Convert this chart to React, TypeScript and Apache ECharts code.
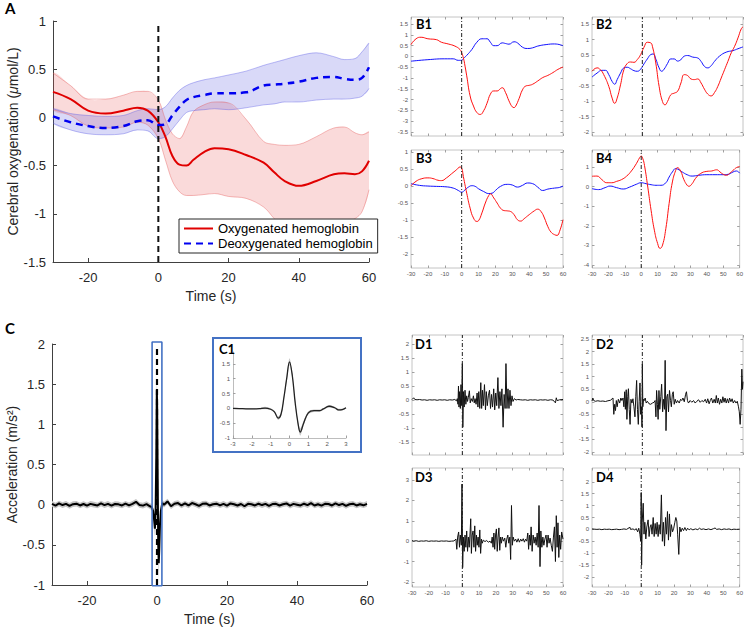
import React, { useEffect, useRef } from "react";
import * as echarts from "echarts";

const FONT = '"Liberation Sans", Arial, Helvetica, sans-serif';
const BOLD = 'Lato, "Open Sans", "Liberation Sans", sans-serif';

// ---------- Panel A: cerebral oxygenation (mean and band) ----------
const tA = [-30, -25, -20, -15, -10, -6, -3, 0, 2, 4, 6, 8, 10, 13, 16, 20, 25, 30, 33, 36, 40, 45, 50, 53, 56, 58, 60];
const oxyMean = [0.265, 0.19, 0.07, 0.04, 0.07, 0.1, 0.07, -0.05, -0.2, -0.4, -0.49, -0.5, -0.44, -0.36, -0.32, -0.33, -0.39, -0.47, -0.57, -0.66, -0.71, -0.66, -0.59, -0.58, -0.59, -0.56, -0.45];
const oxyUpper = [0.46, 0.33, 0.19, 0.19, 0.23, 0.27, 0.27, 0.18, -0.02, -0.17, -0.22, -0.1, 0.06, 0.13, 0.16, 0.15, -0.02, -0.25, -0.28, -0.29, -0.28, -0.2, -0.11, -0.1, -0.16, -0.18, -0.15];
const oxyLower = [0.08, 0.02, -0.09, -0.11, -0.1, -0.05, -0.08, -0.22, -0.44, -0.66, -0.77, -0.81, -0.81, -0.8, -0.79, -0.82, -0.84, -0.93, -1.05, -1.16, -1.23, -1.21, -1.17, -1.1, -1.05, -0.98, -0.75];
const deoxyMean = [0.01, -0.05, -0.09, -0.11, -0.09, -0.04, -0.03, -0.08, -0.07, 0.02, 0.11, 0.18, 0.21, 0.23, 0.25, 0.25, 0.26, 0.33, 0.34, 0.35, 0.37, 0.41, 0.42, 0.4, 0.39, 0.41, 0.52];
const deoxyUpper = [0.09, 0.04, 0.02, 0.01, 0.02, 0.07, 0.09, 0.08, 0.11, 0.2, 0.28, 0.33, 0.36, 0.39, 0.41, 0.44, 0.48, 0.54, 0.57, 0.6, 0.64, 0.67, 0.63, 0.6, 0.61, 0.68, 0.77];
const deoxyLower = [-0.06, -0.13, -0.17, -0.18, -0.17, -0.13, -0.14, -0.22, -0.2, -0.12, -0.03, 0.05, 0.07, 0.08, 0.09, 0.08, 0.1, 0.13, 0.14, 0.16, 0.16, 0.18, 0.19, 0.19, 0.2, 0.22, 0.3];
const legendNames = ["Oxygenated hemoglobin", "Deoxygenated hemoglobin"];
const ticksAx = [-20, 0, 20, 40, 60];
const ticksAy = [-1.5, -1, -0.5, 0, 0.5, 1];

// ---------- Panels B1-B4 ----------
const b1Oxy = [[-30, 0.55], [-27, 0.82], [-24, 0.89], [-20, 0.82], [-15, 0.78], [-12, 0.66], [-8, 0.58], [-4, 0.48], [-1, 0.32], [0, 0.17], [1, -0.06], [2, -0.45], [3, -0.9], [5, -1.83], [7, -2.3], [9, -2.6], [11, -2.69], [13, -2.52], [15, -2.17], [17, -1.75], [19, -1.6], [21, -1.6], [23, -1.49], [24, -1.45], [26, -1.68], [28, -2.06], [30, -2.34], [31, -2.37], [32, -2.3], [34, -1.95], [36, -1.55], [38, -1.37], [40, -1.34], [42, -1.29], [45, -1.14], [48, -0.98], [51, -0.88], [54, -0.75], [57, -0.6], [60, -0.49]];
const b1Deoxy = [[-30, -0.22], [-20, -0.15], [-10, -0.11], [-5, -0.11], [-2, -0.18], [0, -0.18], [1, -0.1], [3, 0.05], [6, 0.32], [9, 0.66], [12, 0.82], [15, 0.82], [17, 0.66], [19, 0.5], [21, 0.5], [24, 0.63], [26, 0.6], [28, 0.57], [31, 0.68], [33, 0.63], [36, 0.43], [39, 0.37], [42, 0.4], [45, 0.48], [50, 0.55], [55, 0.58], [60, 0.5]];
const b2Oxy = [[-30, -0.03], [-27, 0.08], [-25, 0.02], [-23, -0.14], [-20, -0.52], [-18, -0.9], [-16.5, -1.07], [-15, -0.9], [-13, -0.47], [-11, 0.02], [-9, 0.22], [-7, 0.27], [-5, 0.26], [-3, 0.35], [-1, 0.51], [1, 0.75], [3, 0.91], [5, 0.89], [6, 0.78], [8, 0.24], [10, -0.52], [12, -1.01], [13.5, -1.12], [15, -1.01], [17, -0.79], [19, -0.74], [21, -0.68], [23, -0.41], [25, -0.14], [27, -0.17], [29, -0.28], [31, -0.3], [33, -0.28], [35, -0.41], [37, -0.61], [39, -0.77], [41, -0.83], [43, -0.72], [45, -0.52], [47, -0.25], [49, 0.02], [51, 0.29], [53, 0.57], [55, 0.78], [57, 1.05], [59, 1.35], [60, 1.41]];
const b2Deoxy = [[-30, -0.22], [-27, -0.09], [-24, 0], [-22, 0], [-20, -0.14], [-18, -0.36], [-16.5, -0.45], [-15, -0.3], [-13, -0.09], [-11, 0.08], [-9, 0.1], [-7, 0.05], [-5, -0.01], [-3, -0.03], [-1, 0.04], [1, 0.21], [3, 0.37], [5, 0.51], [6.5, 0.53], [8, 0.37], [10, 0.08], [11.5, -0.03], [13, 0.04], [15, 0.22], [17, 0.37], [19, 0.37], [21, 0.3], [23, 0.35], [25, 0.46], [27, 0.48], [30, 0.43], [33, 0.4], [35, 0.29], [37, 0.13], [39, 0.08], [41, 0.15], [43, 0.29], [46, 0.46], [50, 0.59], [54, 0.64], [57, 0.7], [60, 0.76]];
const b3Oxy = [[-30, 0.01], [-27, 0.14], [-24, 0.21], [-20, 0.24], [-17, 0.22], [-14, 0.17], [-12, 0.16], [-9, 0.24], [-6, 0.36], [-3, 0.48], [-1, 0.56], [0, 0.53], [1, 0.28], [3, -0.21], [5, -0.65], [7, -0.94], [9, -1.04], [10, -1.02], [12, -0.79], [14, -0.5], [16, -0.28], [17, -0.23], [19, -0.35], [21, -0.5], [23, -0.65], [25, -0.72], [27, -0.73], [29, -0.75], [31, -0.84], [33, -0.99], [35, -1.03], [37, -0.96], [40, -0.84], [43, -0.73], [45, -0.68], [47, -0.75], [49, -0.94], [51, -1.19], [53, -1.36], [55, -1.43], [56.5, -1.45], [58, -1.33], [60, -0.99]];
const b3Deoxy = [[-30, 0.07], [-25, 0.02], [-20, 0], [-15, -0.01], [-10, -0.02], [-5, -0.06], [-2, -0.13], [0, -0.18], [2, -0.11], [4, -0.03], [6, 0.01], [8, -0.01], [10, -0.08], [13, -0.16], [16, -0.22], [18, -0.21], [20, -0.13], [23, -0.01], [27, 0.05], [30, 0.03], [33, -0.03], [36, 0.02], [39, 0.09], [42, 0.07], [45, -0.03], [48, -0.13], [51, -0.09], [55, -0.06], [58, -0.04], [60, 0]];
const b4Oxy = [[-30, 0.53], [-27, 0.54], [-24, 0.36], [-21, 0.2], [-18, 0.2], [-15, 0.27], [-12, 0.36], [-9, 0.53], [-6, 0.8], [-3, 1.17], [-1, 1.47], [0, 1.56], [1, 1.42], [2, 1.08], [4, -0.02], [6, -1.2], [8, -2.22], [10, -2.9], [11.5, -3.15], [13, -2.98], [15, -2.14], [17, -0.86], [19, 0.24], [21, 0.83], [22, 0.97], [24, 0.8], [26, 0.36], [28, 0.07], [29, 0.02], [31, 0.15], [33, 0.41], [36, 0.66], [40, 0.78], [43, 0.8], [46, 0.86], [48, 0.75], [50, 0.63], [52, 0.58], [54, 0.69], [56, 0.83], [58, 0.97], [60, 1.03]];
const b4Deoxy = [[-30, -0.1], [-26, -0.15], [-22, -0.05], [-19, 0.03], [-15, -0.05], [-11, -0.12], [-7, -0.02], [-3, 0.12], [0, 0.2], [3, 0.15], [6, 0.1], [9, 0.07], [12, 0.07], [15, 0.2], [17, 0.49], [19, 0.75], [21, 0.92], [23, 0.86], [25, 0.75], [28, 0.61], [31, 0.54], [35, 0.58], [40, 0.61], [45, 0.61], [50, 0.61], [53, 0.63], [56, 0.75], [58, 0.8], [60, 0.69]];

// ---------- Panel C: acceleration ----------
const accPre = [0.01, -0.012, 0.015, -0.005, 0.01, -0.015, 0.006, 0.012, -0.01, 0.008, -0.012, 0.01, 0.0, -0.01, 0.015, -0.006, 0.01, -0.012, 0.008, 0.004, -0.01, 0.012, -0.008, 0.01, 0.035, -0.004, -0.012, 0.006, -0.02]; // t = -30..-2
const accSpikeT = [-1.5, -1.1, -0.8, -0.6, -0.4, -0.2, -0.05, 0.05, 0.2, 0.35, 0.5, 0.65, 0.85, 1.1, 1.5];
const accSpikeV = [-0.03, -0.08, -0.2, -0.3, -0.1, 0.6, 1.43, 1.2, 0.3, -0.5, -0.73, -0.55, -0.25, -0.08, 0.02];
const accSpikeHalf = [0.04, 0.05, 0.08, 0.1, 0.12, 0.15, 0.2, 0.2, 0.15, 0.12, 0.2, 0.12, 0.08, 0.05, 0.04];
const accPost = [0.0, 0.04, -0.02, 0.012, 0.02, -0.01, 0.015, -0.01, 0.02, 0.005, -0.015, 0.01, 0.015, -0.01, 0.005, 0.012, -0.008, 0.01, -0.012, 0.015, 0.005, -0.01, 0.008, -0.02, 0.01, 0.005, -0.01, 0.012, -0.005, 0.01, -0.015, 0.008, 0.01, -0.01, 0.005, 0.015, -0.012, 0.01, 0.0, -0.01, 0.012, -0.005, 0.02, -0.01, 0.005, -0.012, 0.01, 0.008, -0.01, 0.015, -0.005, 0.01, -0.015, 0.005, 0.012, -0.01, 0.005, -0.008, 0.01]; // t = 2..60
const accBandHalf = 0.035;
const ticksCy = [-1, -0.5, 0, 0.5, 1, 1.5, 2];

// ---------- Inset C1 ----------
const tC1 = [-3, -2.5, -2, -1.6, -1.3, -1, -0.8, -0.6, -0.45, -0.3, -0.15, 0, 0.15, 0.3, 0.45, 0.57, 0.75, 1, 1.3, 1.6, 1.8, 2.1, 2.4, 2.6, 2.8, 3];
const c1Mean = [0, -0.01, -0.02, -0.01, 0.01, -0.03, -0.12, -0.33, -0.2, 0.35, 1.0, 1.57, 1.1, 0.2, -0.5, -0.8, -0.5, -0.15, -0.08, -0.08, -0.02, 0.07, 0.02, -0.05, -0.04, 0.02];
const c1Half = [0.02, 0.02, 0.02, 0.02, 0.04, 0.03, 0.04, 0.06, 0.06, 0.07, 0.1, 0.12, 0.1, 0.07, 0.08, 0.12, 0.08, 0.05, 0.04, 0.04, 0.03, 0.04, 0.03, 0.04, 0.03, 0.02];
const ticksC1x = [-3, -2, -1, 0, 1, 2, 3];
const ticksC1y = [-1, -0.5, 0, 0.5, 1, 1.5];

// ---------- Panels D1-D4 ----------
const d1 = [[-30, 0.02], [-29, 0.08], [-28.3, 0.02], [-27, 0.01], [-25.5, 0.02], [-24, 0], [-22.5, 0.01], [-21, -0.01], [-19.5, 0.01], [-18, 0], [-16.5, 0.01], [-15, -0.01], [-13.5, 0.01], [-12, 0], [-10.5, 0.01], [-9, -0.01], [-7.5, 0.01], [-6, 0], [-4.5, 0.02], [-3.5, -0.03], [-3, 0.05], [-2.6, -0.15], [-2.3, 0.5], [-2.0, -0.25], [-1.6, 0.3], [-1.2, -0.3], [-0.8, 0.55], [-0.4, -0.2], [0, 1.3], [0.3, -0.97], [0.7, 0.3], [1.1, -0.25], [1.6, 0.35], [2.1, -0.15], [2.6, 0.15], [3.1, -0.05], [3.6, 0.1], [4.2, 0.33], [4.7, -0.1], [5.3, 0.05], [6, -0.05], [6.6, 0.15], [7.1, -0.1], [7.6, 0.05], [8.2, -0.15], [8.8, 0.25], [9.3, -0.25], [9.8, 0.3], [10.4, -0.3], [11, 0.62], [11.5, -0.3], [12, 0.35], [12.5, -0.2], [13.2, 0.55], [13.8, -0.35], [14.3, 0.3], [14.9, -0.2], [15.5, 0.15], [16.2, 0.35], [16.8, -0.3], [17.4, 0.2], [18, -0.25], [18.7, 0.4], [19.3, -0.35], [19.9, 0.25], [20.5, -0.2], [21.2, 0.8], [21.8, -0.3], [22.4, 0.3], [23, -0.2], [23.6, 0.4], [24.3, -0.97], [24.9, 0.2], [25.5, -0.3], [26, 1.3], [26.6, -0.3], [27.2, 0.4], [27.8, -0.3], [28.4, 0.35], [29, -0.2], [29.6, 0.15], [30.2, -0.05], [31, 0.05], [32, 0.0], [33, 0.02], [34.5, 0.01], [36, 0], [37.5, 0.01], [39, -0.01], [40.5, 0.01], [42, 0], [43.5, 0.01], [45, -0.01], [46.5, 0.01], [48, 0], [49.5, 0.01], [51, -0.01], [52.5, 0.01], [54, 0], [55.5, -0.1], [56, 0.08], [56.5, -0.02], [58, 0.01], [60, 0.02]];
const d2 = [[-30, 0.03], [-29.5, 0.15], [-29, 0.05], [-28, 0.02], [-26.5, 0.04], [-25, 0.02], [-23.5, 0.03], [-22, 0.01], [-20.5, 0.04], [-19, 0.06], [-18, 0.12], [-17.5, 0.15], [-17, -0.5], [-16.5, -0.1], [-16, -0.35], [-15.5, 0.05], [-15, -0.2], [-14.3, 0.1], [-13.5, -0.05], [-12.8, 0.15], [-12.2, 0.05], [-11.5, 0.15], [-11, -0.2], [-10.5, 0.4], [-10.1, -0.3], [-9.6, 0.48], [-9.2, -0.7], [-8.7, 0.2], [-8.3, 0.52], [-7.8, -0.3], [-7.3, -0.9], [-6.8, 0.1], [-6.2, -0.05], [-5.6, 0.12], [-5, -0.2], [-4.4, -0.6], [-3.9, 0.2], [-3.4, 0.85], [-2.9, -0.3], [-2.4, -0.9], [-1.9, 0.0], [-1.4, 0.75], [-1, -0.5], [-0.5, -0.2], [-0.2, -1.0], [0, 1.5], [0.3, -0.2], [0.7, 0.1], [1.2, 0.05], [1.7, 0.15], [2.3, -0.05], [3, 0.02], [4, -0.08], [5, -0.1], [6, -0.05], [7, -0.02], [7.6, 0.05], [8.1, -0.6], [8.5, 0.45], [9, -0.1], [9.4, -0.7], [9.9, 0.45], [10.4, -0.3], [11, 0.2], [11.5, 0.7], [12.1, -0.4], [12.6, 0.1], [13.2, -0.3], [13.6, 1.65], [14.1, -1.15], [14.6, 0.2], [15.1, 0.3], [15.6, -0.4], [16.2, 0.45], [16.8, 0.05], [17.3, -0.2], [17.9, 0.3], [18.4, 0.4], [19, -0.1], [19.6, 0.1], [20.3, -0.05], [21, 0.05], [22, -0.05], [22.8, 0.1], [23.5, 0.05], [24.2, 0.15], [25, 0.0], [25.8, 0.3], [26.3, 0.4], [26.9, 0.05], [27.5, -0.05], [28.5, 0.05], [29.5, -0.02], [30.5, 0.05], [31.5, -0.05], [32.5, 0.02], [33.5, 0.08], [34.5, -0.02], [35.5, 0.05], [36.5, 0.0], [37.5, 0.1], [38.3, -0.05], [39, 0.12], [39.8, -0.08], [40.5, 0.05], [41.2, 0.15], [42, -0.05], [42.8, 0.1], [43.5, -0.05], [44.1, 0.25], [44.7, -0.05], [45.3, 0.15], [46, -0.1], [46.7, 0.1], [47.4, -0.05], [48, 0.2], [48.7, -0.02], [49.3, 0.15], [50, -0.05], [50.7, 0.12], [51.4, -0.05], [52, 0.15], [52.8, 0.0], [53.5, 0.12], [54.2, -0.05], [55, 0.05], [55.8, -0.05], [56.6, 0.02], [57.3, -0.2], [57.8, -0.4], [58.3, -0.9], [58.8, -0.3], [59.3, 1.3], [59.7, 0.5], [60, 0.8]];
const d3 = [[-30, 0.03], [-29, 0.0], [-27.5, 0.02], [-26, -0.01], [-24.5, 0.01], [-23, 0.0], [-21.5, 0.02], [-20, -0.01], [-18.5, 0.01], [-17, 0.0], [-15.5, 0.01], [-14, -0.01], [-12.5, 0.01], [-11, 0.0], [-9.5, 0.01], [-8, -0.01], [-6.5, 0.0], [-5, 0.01], [-3.8, 0.1], [-3.3, -0.4], [-2.8, 0.2], [-2.2, 0.45], [-1.7, -0.3], [-1.2, 0.3], [-0.6, -0.2], [-0.2, 2.8], [0.2, -1.3], [0.6, 0.2], [1.1, -0.5], [1.6, 0.3], [2.1, -0.3], [2.6, 0.5], [3.1, -0.5], [3.6, 0.2], [4.1, -0.3], [4.6, 0.4], [5.0, 1.1], [5.4, -0.6], [5.9, 0.3], [6.4, 0.5], [6.9, -0.3], [7.4, 0.75], [7.9, -0.5], [8.4, 0.3], [8.9, -0.2], [9.4, 0.2], [9.9, -0.3], [10.4, 0.55], [10.9, -0.6], [11.4, 0.1], [11.9, -0.1], [12.5, 0.05], [13.5, -0.02], [14.5, 0.03], [15.5, -0.05], [16.5, 0.0], [17.3, -0.1], [17.8, 0.2], [18.3, -0.3], [18.8, 0.4], [19.3, -0.4], [19.8, 0.3], [20.3, 0.6], [20.8, -0.5], [21.3, 0.2], [21.8, 0.65], [22.3, -0.45], [22.8, 0.2], [23.3, -0.1], [23.8, 0.2], [24.5, 0.0], [25.3, 0.15], [25.9, -0.3], [26.5, 0.1], [27.1, 0.3], [27.7, -0.1], [28.3, 0.2], [28.8, -0.9], [29.3, 1.75], [29.8, -0.2], [30.3, 0.2], [31, 0.0], [31.8, 0.1], [32.5, -0.05], [33.3, 0.12], [34, -0.05], [34.8, 0.1], [35.5, 0.0], [36.3, 0.12], [37, -0.05], [37.7, 0.1], [38.4, 0.0], [39, 0.4], [39.5, -0.4], [40, 0.3], [40.5, -0.2], [41, 0.7], [41.6, -0.5], [42.2, 0.3], [42.8, -0.1], [43.4, 0.2], [44, -0.2], [44.6, 0.4], [45.2, -0.3], [45.7, 1.75], [46.3, -1.25], [46.8, 0.5], [47.4, -0.3], [48, 0.2], [48.6, -0.2], [49.2, 0.1], [49.9, 0.3], [50.5, -0.3], [51.1, 0.3], [51.7, -0.1], [52.3, 0.15], [53, -0.2], [53.7, -0.5], [54.3, 0.2], [54.9, 0.7], [55.5, -1.0], [56, 1.25], [56.5, -0.3], [57, 0.9], [57.5, -0.8], [58, 0.3], [58.6, -0.4], [59.2, 0.45], [60, 0.1]];
const d4 = [[-30, 0.02], [-28.5, 0.01], [-27, 0.0], [-25.5, 0.01], [-24, -0.01], [-22.5, 0.01], [-21, 0.0], [-19.5, 0.01], [-18, -0.01], [-16.5, 0.0], [-15, 0.01], [-13.5, -0.01], [-12, 0.0], [-10.5, 0.02], [-9, 0.0], [-7.5, 0.06], [-7, 0.1], [-6.5, 0.0], [-5, 0.02], [-4, -0.02], [-3, 0.03], [-2.2, -0.1], [-1.5, 0.05], [-0.8, -0.2], [-0.3, -0.5], [0, 1.55], [0.25, -1.5], [0.6, 0.3], [1.2, 1.1], [1.7, -0.2], [2.2, 0.3], [2.8, -0.4], [3.4, 0.1], [4.2, 0.4], [4.8, -0.3], [5.4, 0.1], [6, 0.2], [6.6, -0.2], [7.3, 0.5], [7.9, -0.3], [8.5, 0.25], [9.1, -0.2], [9.7, 0.3], [10.3, -0.3], [10.9, 0.2], [11.6, -0.2], [12.3, 1.45], [12.9, -0.5], [13.5, 0.3], [14.2, -0.7], [14.8, 0.5], [15.4, -0.2], [16, 0.75], [16.6, -0.45], [17.2, 0.65], [17.8, -0.3], [18.4, 0.2], [19.1, -0.1], [19.8, 0.05], [20.5, 0.3], [21.1, 0.5], [21.7, 0.35], [22.2, -0.2], [22.9, -1.05], [23.5, 0.1], [24.2, -0.1], [25, 0.05], [25.8, -0.05], [26.6, 0.08], [27.5, -0.05], [28.3, 0.05], [29.2, -0.02], [30.2, 0.03], [31.5, -0.02], [33, 0.02], [34.5, -0.01], [35.5, 0.05], [36.5, 0.0], [38, 0.02], [39.5, -0.01], [41, 0.02], [42.5, -0.01], [44, 0.03], [45, 0.06], [46, 0.0], [47.5, 0.02], [49, -0.01], [50.5, 0.02], [52, 0.0], [53.5, 0.02], [55, -0.01], [56.5, 0.01], [58, 0.0], [60, 0.01]];

const ticksSmallX = [-30, -20, -10, 0, 10, 20, 30, 40, 50, 60];
const ticksB1 = [-3.5, -3, -2.5, -2, -1.5, -1, -0.5, 0, 0.5, 1, 1.5];
const ticksB2 = [-2, -1.5, -1, -0.5, 0, 0.5, 1, 1.5];
const ticksB3 = [-2, -1.5, -1, -0.5, 0, 0.5, 1];
const ticksB4 = [-4, -3, -2, -1, 0, 1];
const ticksD1 = [-1.5, -1, -0.5, 0, 0.5, 1, 1.5, 2];
const ticksD2 = [-2, -1.5, -1, -0.5, 0, 0.5, 1, 1.5, 2, 2.5];
const ticksD3 = [-2, -1, 0, 1, 2, 3];
const ticksD4 = [-2, -1.5, -1, -0.5, 0, 0.5, 1, 1.5, 2];

function buildOption() {
  const grids: any[] = [];
  const xAxes: any[] = [];
  const yAxes: any[] = [];
  const xMirror: any[] = [];
  const yMirror: any[] = [];
  const series: any[] = [];

  const bigAxes = (gi: number, ymin: number, ymax: number, yt: number[], yName: any, nameRich: any) => {
    xAxes.push({
      type: "value", gridIndex: gi, min: -30, max: 60,
      axisLine: { show: true, onZero: false, lineStyle: { color: "#404040", width: 1 } },
      axisTick: { show: true, inside: true, length: 4, customValues: ticksAx, lineStyle: { color: "#404040" } },
      axisLabel: { customValues: ticksAx, fontSize: 13, color: "#262626", margin: 9, fontFamily: FONT },
      splitLine: { show: false },
      name: "Time (s)", nameLocation: "middle", nameGap: 27,
      nameTextStyle: { fontSize: 14, color: "#262626", fontFamily: FONT },
    });
    yAxes.push({
      type: "value", gridIndex: gi, min: ymin, max: ymax,
      axisLine: { show: true, onZero: false, lineStyle: { color: "#404040", width: 1 } },
      axisTick: { show: true, inside: true, length: 4, customValues: yt, lineStyle: { color: "#404040" } },
      axisLabel: { customValues: yt, fontSize: 13, color: "#262626", margin: 7, fontFamily: FONT },
      splitLine: { show: false },
      name: yName, nameLocation: "middle", nameGap: 33, nameRotate: 90,
      nameTextStyle: { fontSize: 14, color: "#262626", fontFamily: FONT, rich: nameRich },
    });
  };

  const smallAxes = (gi: number, xmin: number, xmax: number, xt: number[], ymin: number, ymax: number, yt: number[], showX: boolean, boxed: boolean) => {
    xAxes.push({
      type: "value", gridIndex: gi, min: xmin, max: xmax,
      axisLine: { show: !boxed, onZero: false, lineStyle: { color: "#bdbdbd" } },
      axisTick: { show: true, inside: true, length: 2.5, customValues: xt, lineStyle: { color: "#a0a0a0" } },
      axisLabel: { show: showX, customValues: xt, fontSize: 6, color: "#555", margin: 3, fontFamily: FONT },
      splitLine: { show: false },
    });
    yAxes.push({
      type: "value", gridIndex: gi, min: ymin, max: ymax,
      axisLine: { show: !boxed, onZero: false, lineStyle: { color: "#bdbdbd" } },
      axisTick: { show: true, inside: true, length: 2.5, customValues: yt, lineStyle: { color: "#a0a0a0" } },
      axisLabel: { customValues: yt, fontSize: 6, color: "#555", margin: 3, fontFamily: FONT },
      splitLine: { show: false },
    });
    if (boxed) {
      // MATLAB box: ticks also on the top and right edges
      xMirror.push({
        type: "value", gridIndex: gi, position: "top", min: xmin, max: xmax,
        axisLine: { show: false, onZero: false },
        axisTick: { show: true, inside: true, length: 2.5, customValues: xt, lineStyle: { color: "#a0a0a0" } },
        axisLabel: { show: false }, splitLine: { show: false },
      });
      yMirror.push({
        type: "value", gridIndex: gi, position: "right", min: ymin, max: ymax,
        axisLine: { show: false, onZero: false },
        axisTick: { show: true, inside: true, length: 2.5, customValues: yt, lineStyle: { color: "#a0a0a0" } },
        axisLabel: { show: false }, splitLine: { show: false },
      });
    }
  };

  const line = (gi: number, data: any[], color: string, width: number, extra: any = {}) => {
    series.push({
      type: "line", xAxisIndex: gi, yAxisIndex: gi, data, symbol: "none", showSymbol: false,
      silent: true, lineStyle: { color, width }, itemStyle: { color }, ...extra,
    });
  };

  // Filled band between lower and upper curves, drawn as one polygon through the axis scales.
  const band = (gi: number, xs: number[], lo: number[], hi: number[], fill: string, smooth: number) => {
    series.push({
      type: "custom", xAxisIndex: gi, yAxisIndex: gi, silent: true, z: 1, clip: true,
      data: xs.map((x, i) => [x, lo[i], hi[i]]),
      encode: { x: 0, y: [1, 2] },
      renderItem: (params: any, api: any) => {
        if (params.dataIndex !== 0) return null;
        const pts: number[][] = [];
        for (let i = 0; i < xs.length; i++) pts.push(api.coord([xs[i], hi[i]]));
        for (let i = xs.length - 1; i >= 0; i--) pts.push(api.coord([xs[i], lo[i]]));
        return { type: "polygon", shape: { points: pts, smooth }, style: { fill, stroke: null } };
      },
    });
  };

  const zeroLine = (gi: number, y0: number, y1: number) => {
    line(gi, [[0, y0], [0, y1]], "#222", 1, { lineStyle: { color: "#222", width: 1, type: [4, 2, 1, 2] }, z: 4 });
  };

  // ---- A (grid 0)
  grids.push({ left: 53, top: 21, width: 316, height: 241 });
  bigAxes(0, -1.5, 1, ticksAy, "{n|Cerebral oxygenation (}{i|\u03BC}{n|mol/L)}", {
    n: { fontSize: 14, color: "#262626", fontFamily: FONT },
    i: { fontSize: 14, color: "#262626", fontFamily: FONT, fontStyle: "italic" },
  });
  band(0, tA, oxyLower, oxyUpper, "rgba(232,85,85,0.22)", 0.35);
  band(0, tA, deoxyLower, deoxyUpper, "rgba(80,80,225,0.22)", 0.35);
  const edgeR = "rgba(230,90,90,0.5)";
  const edgeB = "rgba(90,90,230,0.5)";
  line(0, tA.map((t, i) => [t, oxyUpper[i]]), edgeR, 0.8, { smooth: 0.35, z: 2 });
  line(0, tA.map((t, i) => [t, oxyLower[i]]), edgeR, 0.8, { smooth: 0.35, z: 2 });
  line(0, tA.map((t, i) => [t, deoxyUpper[i]]), edgeB, 0.8, { smooth: 0.35, z: 2 });
  line(0, tA.map((t, i) => [t, deoxyLower[i]]), edgeB, 0.8, { smooth: 0.35, z: 2 });
  line(0, tA.map((t, i) => [t, oxyMean[i]]), "#e00000", 2, { name: legendNames[0], smooth: 0.4, z: 3 });
  line(0, tA.map((t, i) => [t, deoxyMean[i]]), "#0000f0", 2.5, {
    name: legendNames[1], smooth: 0.4, z: 3, lineStyle: { color: "#0000f0", width: 2.5, type: [7, 5] },
  });
  line(0, [[0, -1.5], [0, 0.98]], "#111", 2, { lineStyle: { color: "#111", width: 2, type: [6, 4] }, z: 3 });

  // ---- B panels (grids 1-4)
  const bDefs = [
    { box: [411, 17, 152, 119], ymin: -3.69, ymax: 1.83, yt: ticksB1, oxy: b1Oxy, de: b1Deoxy, sx: false },
    { box: [592, 17, 151, 119], ymin: -2.13, ymax: 1.73, yt: ticksB2, oxy: b2Oxy, de: b2Deoxy, sx: false },
    { box: [411, 150, 152, 118], ymin: -2.41, ymax: 1.06, yt: ticksB3, oxy: b3Oxy, de: b3Deoxy, sx: true },
    { box: [592, 150, 151, 118], ymin: -4.15, ymax: 1.87, yt: ticksB4, oxy: b4Oxy, de: b4Deoxy, sx: true },
  ];
  bDefs.forEach((d, k) => {
    const gi = 1 + k;
    grids.push({ left: d.box[0], top: d.box[1], width: d.box[2], height: d.box[3], show: true, borderColor: "#c4c4c4", borderWidth: 1, backgroundColor: "transparent" });
    smallAxes(gi, -30, 60, ticksSmallX, d.ymin, d.ymax, d.yt, d.sx, true);
    line(gi, d.de, "#1010ff", 1, { smooth: 0.5 });
    line(gi, d.oxy, "#ff1010", 1, { smooth: 0.5 });
    zeroLine(gi, d.ymin, d.ymax);
  });

  // ---- C (grid 5)
  grids.push({ left: 52, top: 344, width: 315, height: 241 });
  bigAxes(5, -1, 2, ticksCy, "Acceleration (m/s\u00B2)", {});
  const tCx: number[] = [];
  const cV: number[] = [];
  const cH: number[] = [];
  accPre.forEach((v, i) => { tCx.push(-30 + i); cV.push(v); cH.push(accBandHalf); });
  accSpikeT.forEach((t, i) => { tCx.push(t); cV.push(accSpikeV[i]); cH.push(accSpikeHalf[i]); });
  accPost.forEach((v, i) => { tCx.push(2 + i); cV.push(v); cH.push(accBandHalf); });
  band(5, tCx, cV.map((v, i) => v - cH[i]), cV.map((v, i) => v + cH[i]), "#c4c4c4", 0);
  line(5, tCx.map((t, i) => [t, cV[i]]), "#000", 2, { z: 3 });
  line(5, [[0, -1], [0, 1.95]], "#000", 2, { lineStyle: { color: "#000", width: 2.2, type: [6, 4] }, z: 4 });
  line(5, [[-1.4, -1.01], [1.4, -1.01], [1.4, 2.025], [-1.4, 2.025], [-1.4, -1.01]], "#4472c4", 1.6, { clip: false, z: 5 });

  // ---- C1 inset (grid 6)
  grids.push({ left: 233, top: 352, width: 113, height: 86 });
  smallAxes(6, -3, 3, ticksC1x, -1, 1.9, ticksC1y, true, false);
  band(6, tC1, c1Mean.map((v, i) => v - c1Half[i]), c1Mean.map((v, i) => v + c1Half[i]), "#c8c8c8", 0.3);
  line(6, tC1.map((t, i) => [t, c1Mean[i]]), "#222", 1.3, { smooth: 0.4, z: 3 });

  // ---- D panels (grids 7-10)
  const dDefs = [
    { box: [412, 335, 151, 120], ymin: -1.96, ymax: 2.32, yt: ticksD1, data: d1, sx: false },
    { box: [592, 335, 151, 120], ymin: -2.12, ymax: 2.66, yt: ticksD2, data: d2, sx: false },
    { box: [412, 468, 151, 119], ymin: -2.25, ymax: 3.59, yt: ticksD3, data: d3, sx: true },
    { box: [592, 468, 151, 119], ymin: -2.42, ymax: 2.58, yt: ticksD4, data: d4, sx: true },
  ];
  dDefs.forEach((d, k) => {
    const gi = 7 + k;
    grids.push({ left: d.box[0], top: d.box[1], width: d.box[2], height: d.box[3], show: true, borderColor: "#c4c4c4", borderWidth: 1, backgroundColor: "transparent" });
    smallAxes(gi, -30, 60, ticksSmallX, d.ymin, d.ymax, d.yt, d.sx, true);
    line(gi, d.data, "#111", 1);
    zeroLine(gi, d.ymin, d.ymax);
  });

  const label = (text: string, x: number, y: number, size: number) => ({
    type: "text", x, y, z: 20,
    style: { text, fontSize: size, fontWeight: "bold", fontFamily: BOLD, fill: "#000", verticalAlign: "middle", align: "left" },
  });

  return {
    animation: false,
    backgroundColor: "#ffffff",
    grid: grids,
    xAxis: xAxes.concat(xMirror),
    yAxis: yAxes.concat(yMirror),
    series,
    legend: {
      data: legendNames, orient: "vertical", left: 179, top: 219,
      itemWidth: 29, itemHeight: 12, itemGap: 2, padding: [3, 5, 3, 4],
      backgroundColor: "#fff", borderColor: "#262626", borderWidth: 1, borderRadius: 0,
      textStyle: { fontSize: 13, color: "#000", fontFamily: FONT },
      itemStyle: { opacity: 0 },
      selectedMode: false,
    },
    graphic: [
      { type: "rect", shape: { x: 213, y: 338, width: 148, height: 114 }, style: { fill: "none", stroke: "#4472c4", lineWidth: 2 }, z: 10 },
      label("A", 5, 8, 15),
      label("C", 5, 328, 15),
      label("B1", 416, 24, 13),
      label("B2", 596, 24, 13),
      label("B3", 416, 158, 13),
      label("B4", 596, 158, 13),
      label("C1", 219, 349, 13),
      label("D1", 415, 344, 13),
      label("D2", 596, 344, 13),
      label("D3", 415, 477, 13),
      label("D4", 596, 477, 13),
    ],
  };
}

export default function App() {
  const ref = useRef<HTMLDivElement>(null);
  useEffect(() => {
    const chart = echarts.init(ref.current as HTMLDivElement, null, { renderer: "svg" });
    chart.setOption(buildOption() as any);
    return () => chart.dispose();
  }, []);
  return (
    <div
      ref={ref}
      style={{ position: "absolute", left: 0, top: 0, width: 746, height: 628, background: "#fff" }}
    />
  );
}
